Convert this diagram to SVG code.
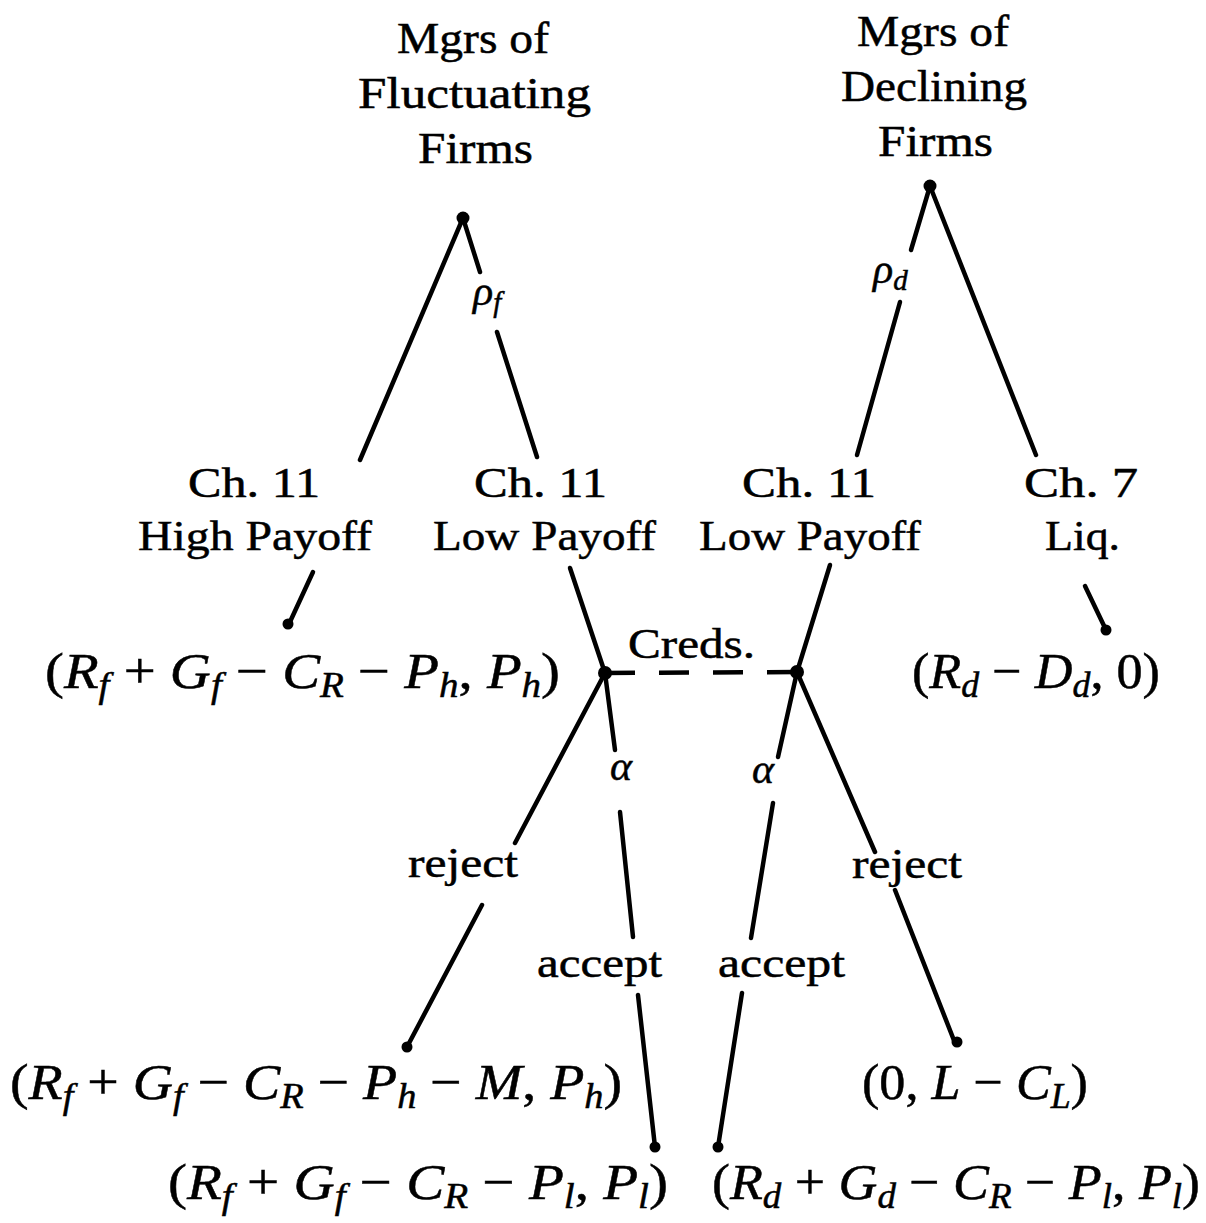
<svg xmlns="http://www.w3.org/2000/svg" width="1206" height="1223" viewBox="0 0 1206 1223">
<style>
  .t { font-family: "Liberation Serif", "Times New Roman", serif; font-size: 42px; fill: #000; stroke: #000; stroke-width: 0.5; }
  .h { font-family: "Liberation Serif", "Times New Roman", serif; font-size: 44px; fill: #000; stroke: #000; stroke-width: 0.5; }
  .m { font-family: "Liberation Serif", "Times New Roman", serif; font-size: 51px; fill: #000; stroke: #000; stroke-width: 0.5; }
  .v { font-style: italic; }
  .s { font-style: italic; font-size: 35px; }
  .g { font-family: "Liberation Serif", "Times New Roman", serif; font-style: italic; font-size: 42px; fill: #000; stroke: #000; stroke-width: 0.5; }
  .gs { font-size: 29px; }
  .e { stroke: #000; stroke-width: 4.5; stroke-linecap: round; fill: none; }
  .d { stroke: #000; stroke-width: 4.5; fill: none; stroke-dasharray: 30 24; }
  .n { fill: #000; }
</style>
<rect width="1206" height="1223" fill="#fff"/>

<g id="connectors">
  <line class="e" x1="463" y1="218" x2="360" y2="460"/>
  <line class="e" x1="463" y1="218" x2="480" y2="272"/>
  <line class="e" x1="497" y1="332" x2="537" y2="457"/>
  <line class="e" x1="930" y1="186" x2="911" y2="250"/>
  <line class="e" x1="900" y1="302" x2="857" y2="455"/>
  <line class="e" x1="930" y1="186" x2="1036" y2="455"/>
  <line class="e" x1="313" y1="572" x2="289" y2="624"/>
  <line class="e" x1="570" y1="568" x2="605" y2="673"/>
  <line class="e" x1="830" y1="565" x2="797" y2="672"/>
  <line class="e" x1="1085" y1="586" x2="1106" y2="630"/>
  <line class="d" x1="605" y1="673" x2="797" y2="672"/>
  <line class="e" x1="605" y1="673" x2="615" y2="750"/>
  <line class="e" x1="620" y1="812" x2="633" y2="937"/>
  <line class="e" x1="638" y1="995" x2="655" y2="1147"/>
  <line class="e" x1="605" y1="673" x2="515" y2="843"/>
  <line class="e" x1="482" y1="905" x2="407" y2="1047"/>
  <line class="e" x1="797" y1="672" x2="778" y2="757"/>
  <line class="e" x1="773" y1="803" x2="751" y2="938"/>
  <line class="e" x1="742" y1="993" x2="718" y2="1147"/>
  <line class="e" x1="797" y1="672" x2="875" y2="852"/>
  <line class="e" x1="895" y1="890" x2="955" y2="1043"/>
  <text class="g" x="473" y="305">ρ<tspan class="gs" dy="7">f</tspan></text>
  <text class="g" x="873" y="283">ρ<tspan class="gs" dy="7">d</tspan></text>
  <text class="t" x="628" y="658" textLength="127" lengthAdjust="spacingAndGlyphs">Creds.</text>
  <text class="g" x="610" y="780">α</text>
  <text class="g" x="752" y="783">α</text>
  <text class="t" x="408" y="877" textLength="110" lengthAdjust="spacingAndGlyphs">reject</text>
  <text class="t" x="852" y="878" textLength="110" lengthAdjust="spacingAndGlyphs">reject</text>
  <text class="t" x="537" y="977" textLength="125" lengthAdjust="spacingAndGlyphs">accept</text>
  <text class="t" x="718" y="977" textLength="127" lengthAdjust="spacingAndGlyphs">accept</text>
</g>

<g id="root-fluctuating">
  <text class="h" x="397" y="53" textLength="152" lengthAdjust="spacingAndGlyphs">Mgrs of</text>
  <text class="h" x="358" y="108" textLength="233" lengthAdjust="spacingAndGlyphs">Fluctuating</text>
  <text class="h" x="418" y="163" textLength="115" lengthAdjust="spacingAndGlyphs">Firms</text>
  <circle class="n" cx="463" cy="218" r="6.5"/>
</g>

<g id="root-declining">
  <text class="h" x="857" y="46" textLength="152" lengthAdjust="spacingAndGlyphs">Mgrs of</text>
  <text class="h" x="841" y="101" textLength="186" lengthAdjust="spacingAndGlyphs">Declining</text>
  <text class="h" x="878" y="156" textLength="115" lengthAdjust="spacingAndGlyphs">Firms</text>
  <circle class="n" cx="930" cy="186" r="6.5"/>
</g>

<g id="ch11-high">
  <text class="t" x="188" y="497" textLength="132" lengthAdjust="spacingAndGlyphs">Ch. 11</text>
  <text class="t" x="138" y="550" textLength="234" lengthAdjust="spacingAndGlyphs">High Payoff</text>
</g>

<g id="ch11-low-f">
  <text class="t" x="474" y="497" textLength="133" lengthAdjust="spacingAndGlyphs">Ch. 11</text>
  <text class="t" x="433" y="550" textLength="223" lengthAdjust="spacingAndGlyphs">Low Payoff</text>
</g>

<g id="ch11-low-d">
  <text class="t" x="742" y="497" textLength="134" lengthAdjust="spacingAndGlyphs">Ch. 11</text>
  <text class="t" x="699" y="550" textLength="222" lengthAdjust="spacingAndGlyphs">Low Payoff</text>
</g>

<g id="ch7-liq">
  <text class="t" x="1024" y="497" textLength="114" lengthAdjust="spacingAndGlyphs">Ch. 7</text>
  <text class="t" x="1045" y="550" textLength="75" lengthAdjust="spacingAndGlyphs">Liq.</text>
</g>

<g id="creds-f">
  <circle class="n" cx="605" cy="673" r="7"/>
</g>

<g id="creds-d">
  <circle class="n" cx="797" cy="672" r="7"/>
</g>

<g id="payoff-high">
  <circle class="n" cx="288" cy="624" r="5.5"/>
  <text class="m" x="45" y="688" textLength="515" lengthAdjust="spacingAndGlyphs">(<tspan class="v">R</tspan><tspan class="s" dy="9">f</tspan><tspan dy="-9"> + </tspan><tspan class="v">G</tspan><tspan class="s" dy="9">f</tspan><tspan dy="-9"> − </tspan><tspan class="v">C</tspan><tspan class="s" dy="9">R</tspan><tspan dy="-9"> − </tspan><tspan class="v">P</tspan><tspan class="s" dy="9">h</tspan><tspan dy="-9">, </tspan><tspan class="v">P</tspan><tspan class="s" dy="9">h</tspan><tspan dy="-9">)</tspan></text>
</g>

<g id="payoff-liq">
  <circle class="n" cx="1106" cy="630" r="5.5"/>
  <text class="m" x="912" y="688" textLength="248" lengthAdjust="spacingAndGlyphs">(<tspan class="v">R</tspan><tspan class="s" dy="9">d</tspan><tspan dy="-9"> − </tspan><tspan class="v">D</tspan><tspan class="s" dy="9">d</tspan><tspan dy="-9">, 0)</tspan></text>
</g>

<g id="payoff-f-reject">
  <circle class="n" cx="407" cy="1047" r="5.5"/>
  <text class="m" x="10" y="1099" textLength="612" lengthAdjust="spacingAndGlyphs">(<tspan class="v">R</tspan><tspan class="s" dy="9">f</tspan><tspan dy="-9"> + </tspan><tspan class="v">G</tspan><tspan class="s" dy="9">f</tspan><tspan dy="-9"> − </tspan><tspan class="v">C</tspan><tspan class="s" dy="9">R</tspan><tspan dy="-9"> − </tspan><tspan class="v">P</tspan><tspan class="s" dy="9">h</tspan><tspan dy="-9"> − </tspan><tspan class="v">M</tspan><tspan>, </tspan><tspan class="v">P</tspan><tspan class="s" dy="9">h</tspan><tspan dy="-9">)</tspan></text>
</g>

<g id="payoff-f-accept">
  <circle class="n" cx="655" cy="1147" r="5.5"/>
  <text class="m" x="168" y="1199" textLength="500" lengthAdjust="spacingAndGlyphs">(<tspan class="v">R</tspan><tspan class="s" dy="9">f</tspan><tspan dy="-9"> + </tspan><tspan class="v">G</tspan><tspan class="s" dy="9">f</tspan><tspan dy="-9"> − </tspan><tspan class="v">C</tspan><tspan class="s" dy="9">R</tspan><tspan dy="-9"> − </tspan><tspan class="v">P</tspan><tspan class="s" dy="9">l</tspan><tspan dy="-9">, </tspan><tspan class="v">P</tspan><tspan class="s" dy="9">l</tspan><tspan dy="-9">)</tspan></text>
</g>

<g id="payoff-d-accept">
  <circle class="n" cx="718" cy="1147" r="5.5"/>
  <text class="m" x="712" y="1199" textLength="488" lengthAdjust="spacingAndGlyphs">(<tspan class="v">R</tspan><tspan class="s" dy="9">d</tspan><tspan dy="-9"> + </tspan><tspan class="v">G</tspan><tspan class="s" dy="9">d</tspan><tspan dy="-9"> − </tspan><tspan class="v">C</tspan><tspan class="s" dy="9">R</tspan><tspan dy="-9"> − </tspan><tspan class="v">P</tspan><tspan class="s" dy="9">l</tspan><tspan dy="-9">, </tspan><tspan class="v">P</tspan><tspan class="s" dy="9">l</tspan><tspan dy="-9">)</tspan></text>
</g>

<g id="payoff-d-reject">
  <circle class="n" cx="957" cy="1042" r="5.5"/>
  <text class="m" x="862" y="1099" textLength="226" lengthAdjust="spacingAndGlyphs">(0, <tspan class="v">L</tspan> − <tspan class="v">C</tspan><tspan class="s" dy="9">L</tspan><tspan dy="-9">)</tspan></text>
</g>
</svg>
